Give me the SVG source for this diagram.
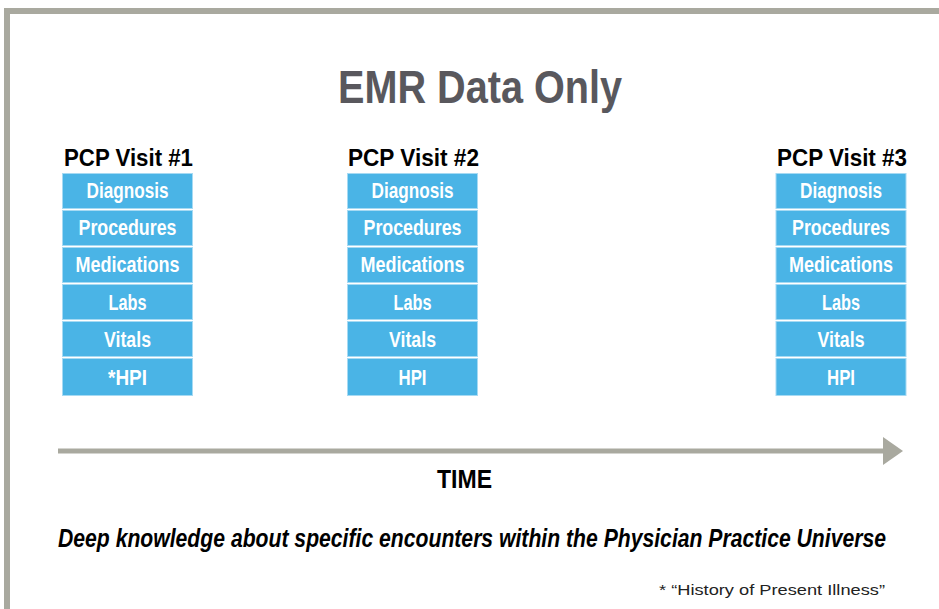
<svg xmlns="http://www.w3.org/2000/svg" width="939" height="609" viewBox="0 0 939 609">
<style>
.frame{fill:none;stroke:#a9a99f;stroke-width:6}
.box{fill:#4ab4e6;stroke:#a6daf3;stroke-width:1}
.lbl{font-family:"Liberation Sans",Arial,sans-serif;font-weight:bold;font-size:22px;fill:#ffffff;text-anchor:middle}
.head{font-family:"Liberation Sans",Arial,sans-serif;font-weight:bold;font-size:23px;fill:#000000}
.title{font-family:"Liberation Sans",Arial,sans-serif;font-weight:bold;font-size:46px;fill:#59585d}
.time{font-family:"Liberation Sans",Arial,sans-serif;font-weight:bold;font-size:25px;fill:#000000}
.desc{font-family:"Liberation Sans",Arial,sans-serif;font-weight:bold;font-style:italic;font-size:26px;fill:#000000}
.note{font-family:"Liberation Sans",Arial,sans-serif;font-size:15px;fill:#222222}
.axis{stroke:#a9a99f;stroke-width:5;fill:none}
.ahead{fill:#a9a99f}
</style>
<rect width="939" height="609" fill="#ffffff"/>
<path class="frame" d="M7 612 V11 H942"/>
<text class="title" x="338" y="103" textLength="284" lengthAdjust="spacingAndGlyphs">EMR Data Only</text>

<g id="visit1">
<text class="head" x="64" y="166" textLength="129" lengthAdjust="spacingAndGlyphs">PCP Visit #1</text>
<rect class="box" x="62.5" y="173.5" width="130" height="35"/>
<rect class="box" x="62.5" y="210.5" width="130" height="35"/>
<rect class="box" x="62.5" y="247.5" width="130" height="35"/>
<rect class="box" x="62.5" y="284.5" width="130" height="35"/>
<rect class="box" x="62.5" y="321.5" width="130" height="35"/>
<rect class="box" x="62.5" y="358.5" width="130" height="37"/>
<text class="lbl" x="127.5" y="198" textLength="82" lengthAdjust="spacingAndGlyphs">Diagnosis</text>
<text class="lbl" x="127.5" y="235" textLength="98" lengthAdjust="spacingAndGlyphs">Procedures</text>
<text class="lbl" x="127.5" y="272" textLength="104" lengthAdjust="spacingAndGlyphs">Medications</text>
<text class="lbl" x="127.5" y="310" textLength="38" lengthAdjust="spacingAndGlyphs">Labs</text>
<text class="lbl" x="127.5" y="347" textLength="47" lengthAdjust="spacingAndGlyphs">Vitals</text>
<text class="lbl" x="127.5" y="385" textLength="39" lengthAdjust="spacingAndGlyphs">*HPI</text>
</g>

<g id="visit2">
<text class="head" x="348" y="166" textLength="131" lengthAdjust="spacingAndGlyphs">PCP Visit #2</text>
<rect class="box" x="347.5" y="173.5" width="130" height="35"/>
<rect class="box" x="347.5" y="210.5" width="130" height="35"/>
<rect class="box" x="347.5" y="247.5" width="130" height="35"/>
<rect class="box" x="347.5" y="284.5" width="130" height="35"/>
<rect class="box" x="347.5" y="321.5" width="130" height="35"/>
<rect class="box" x="347.5" y="358.5" width="130" height="37"/>
<text class="lbl" x="412.5" y="198" textLength="82" lengthAdjust="spacingAndGlyphs">Diagnosis</text>
<text class="lbl" x="412.5" y="235" textLength="98" lengthAdjust="spacingAndGlyphs">Procedures</text>
<text class="lbl" x="412.5" y="272" textLength="104" lengthAdjust="spacingAndGlyphs">Medications</text>
<text class="lbl" x="412.5" y="310" textLength="38" lengthAdjust="spacingAndGlyphs">Labs</text>
<text class="lbl" x="412.5" y="347" textLength="47" lengthAdjust="spacingAndGlyphs">Vitals</text>
<text class="lbl" x="412.5" y="385" textLength="28" lengthAdjust="spacingAndGlyphs">HPI</text>
</g>

<g id="visit3">
<text class="head" x="777" y="166" textLength="130" lengthAdjust="spacingAndGlyphs">PCP Visit #3</text>
<rect class="box" x="776" y="173.5" width="130" height="35"/>
<rect class="box" x="776" y="210.5" width="130" height="35"/>
<rect class="box" x="776" y="247.5" width="130" height="35"/>
<rect class="box" x="776" y="284.5" width="130" height="35"/>
<rect class="box" x="776" y="321.5" width="130" height="35"/>
<rect class="box" x="776" y="358.5" width="130" height="37"/>
<text class="lbl" x="841" y="198" textLength="82" lengthAdjust="spacingAndGlyphs">Diagnosis</text>
<text class="lbl" x="841" y="235" textLength="98" lengthAdjust="spacingAndGlyphs">Procedures</text>
<text class="lbl" x="841" y="272" textLength="104" lengthAdjust="spacingAndGlyphs">Medications</text>
<text class="lbl" x="841" y="310" textLength="38" lengthAdjust="spacingAndGlyphs">Labs</text>
<text class="lbl" x="841" y="347" textLength="47" lengthAdjust="spacingAndGlyphs">Vitals</text>
<text class="lbl" x="841" y="385" textLength="28" lengthAdjust="spacingAndGlyphs">HPI</text>
</g>

<g id="connectors">
<line class="axis" x1="58" y1="451" x2="885" y2="451"/>
<polygon class="ahead" points="883,437 903,451 883,465"/>
</g>

<text class="time" x="437" y="488" textLength="55" lengthAdjust="spacingAndGlyphs">TIME</text>
<text class="desc" transform="translate(58,547) scale(0.8,1)" x="0" y="0" textLength="1035" lengthAdjust="spacingAndGlyphs">Deep knowledge about specific encounters within the Physician Practice Universe</text>
<text class="note" x="659" y="595" textLength="226" lengthAdjust="spacingAndGlyphs">* “History of Present Illness”</text>
</svg>
